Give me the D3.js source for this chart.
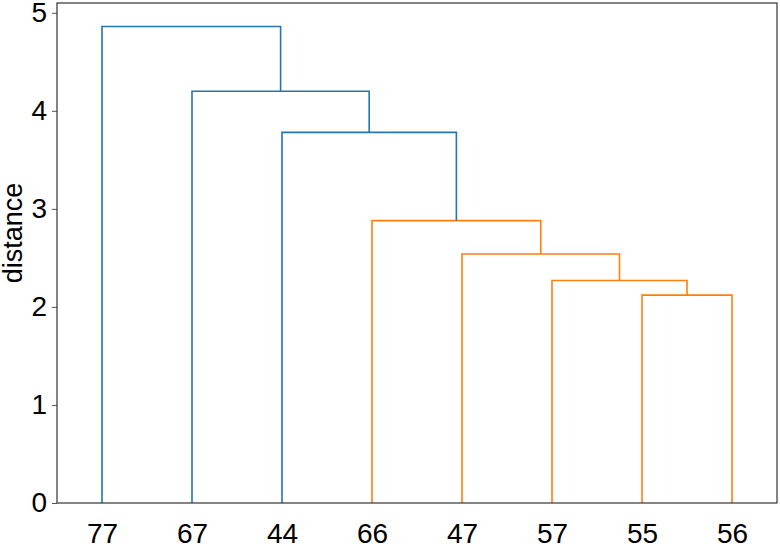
<!DOCTYPE html>
<html>
<head>
<meta charset="utf-8">
<script src="https://cdn.jsdelivr.net/npm/d3@7"></script>
<style>
  body { margin: 0; background: #fff; }
  text { font-family: "Liberation Sans", Arial, Helvetica, sans-serif; }
</style>
</head>
<body>
<div id="chart"></div>
<script>
// leaf labels in dendrogram order
const leafLabels = ["77", "67", "44", "66", "47", "57", "55", "56"]

// linkage: [left id, right id, distance]  (ids 0-7 are leaves, 8+ are merged clusters)
const linkLeft = [6, 5, 4, 3, 2, 1, 0]
const linkRight = [7, 8, 9, 10, 11, 12, 13]
const linkHeight = [2.12, 2.27, 2.54, 2.88, 3.78, 4.20, 4.86]

const yTicks = [0, 1, 2, 3, 4, 5]
const colorThreshold = 0.7 * d3.max(linkHeight)

const width = 780, height = 546
const margin = {top: 3, right: 3, bottom: 43, left: 57}

const svg = d3.select("#chart")
    .append("svg")
    .attr("width", width)
    .attr("height", height)

const x = d3.scaleLinear()
    .domain([0, leafLabels.length * 10])
    .range([margin.left, width - margin.right])

const y = d3.scaleLinear()
    .domain([0, 5.1])
    .range([height - margin.bottom, margin.top])

// positions of every node: leaves then clusters
const nodes = leafLabels.map((label, i) => ({x: 5 + i * 10, h: 0}))
const links = linkHeight.map((h, i) => {
    const a = nodes[linkLeft[i]], b = nodes[linkRight[i]]
    nodes.push({x: (a.x + b.x) / 2, h: h})
    return {a, b, h}
})

svg.selectAll(".link")
    .data(links)
    .enter()
    .append("path")
    .attr("class", "link")
    .attr("fill", "none")
    .attr("stroke", d => d.h < colorThreshold ? "#ff7f0e" : "#1f77b4")
    .attr("stroke-width", 1.6)
    .attr("d", d => d3.line()([
        [x(d.a.x), y(d.a.h)],
        [x(d.a.x), y(d.h)],
        [x(d.b.x), y(d.h)],
        [x(d.b.x), y(d.b.h)]
    ]))

// y axis
const yAxis = svg.append("g")
    .attr("transform", `translate(${margin.left},0)`)
    .call(d3.axisLeft(y).tickValues(yTicks).tickSize(5).tickPadding(5).tickFormat(d3.format("d")))
yAxis.select(".domain").remove()
yAxis.selectAll(".tick line").attr("stroke", "#555")
yAxis.selectAll("text").attr("font-size", 28).attr("fill", "#000")
    .attr("font-family", "'Liberation Sans', Arial, sans-serif")

// x axis with leaf labels
const xAxis = svg.append("g")
    .attr("transform", `translate(0,${height - margin.bottom})`)
    .call(d3.axisBottom(x)
        .tickValues(leafLabels.map((l, i) => 5 + i * 10))
        .tickFormat((d, i) => leafLabels[i])
        .tickSize(0)
        .tickPadding(20))
xAxis.select(".domain").remove()
xAxis.selectAll("text").attr("font-size", 28).attr("fill", "#000")
    .attr("font-family", "'Liberation Sans', Arial, sans-serif")

// frame
svg.append("rect")
    .attr("x", margin.left)
    .attr("y", margin.top)
    .attr("width", width - margin.left - margin.right)
    .attr("height", height - margin.top - margin.bottom)
    .attr("fill", "none")
    .attr("stroke", "#333")
    .attr("stroke-width", 1.2)

svg.append("text")
    .attr("transform", `translate(22,${(margin.top + height - margin.bottom) / 2 - 20}) rotate(-90)`)
    .attr("text-anchor", "middle")
    .attr("font-size", 27)
    .text("distance")
</script>
</body>
</html>
